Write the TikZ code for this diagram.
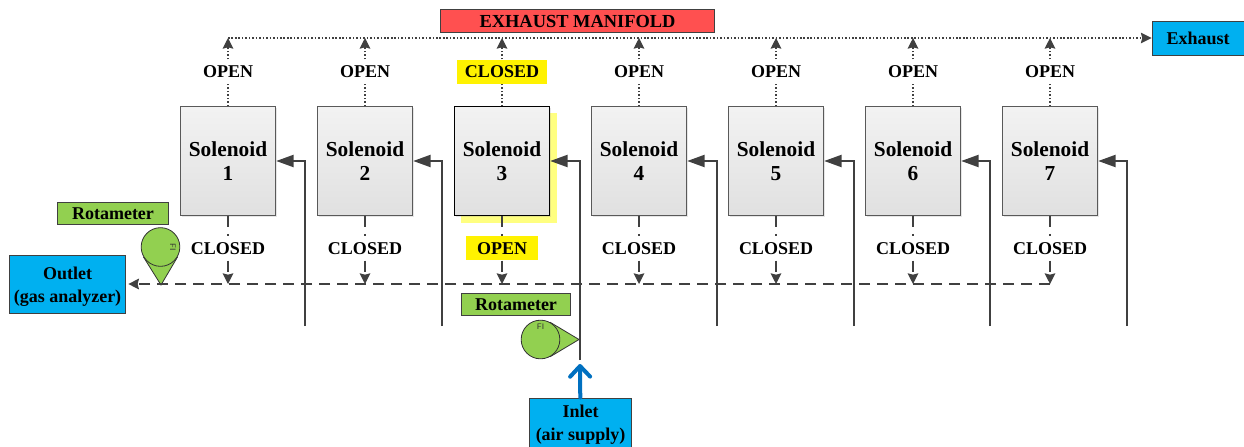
\documentclass[tikz,border=0pt]{standalone}
\usepackage{fontspec}
\setmainfont{Liberation Serif}
\usetikzlibrary{arrows.meta,calc,shadows,backgrounds}
\definecolor{linegray}{HTML}{404040}
\definecolor{boxblue}{HTML}{00B0F0}
\definecolor{boxred}{HTML}{FF5050}
\definecolor{boxgreen}{HTML}{92D050}
\definecolor{arrowblue}{HTML}{0070C0}
\definecolor{softyellow}{HTML}{FFFF80}

\begin{document}
\begin{tikzpicture}[x=0.75pt,y=-0.75pt,>={Stealth[length=8pt,width=8pt,inset=1pt]},node distance=102.75pt,font=\fontsize{13.5}{17}\selectfont\bfseries]
  \tikzstyle{solenoid}=[draw=black!65,line width=0.8pt,top color=black!5,bottom color=black!12,drop shadow={shadow xshift=1pt,shadow yshift=-1pt,opacity=0.2},minimum width=71.5pt,minimum height=81.5pt,align=center,inner sep=0pt,font=\fontsize{16}{18}\selectfont\bfseries]
  \tikzstyle{state label}=[inner xsep=2pt,inner ysep=0pt,minimum height=18pt]
  \tikzstyle{open label}=[state label,above of=#1,node distance=67pt]
  \tikzstyle{closed label}=[state label,below of=#1,node distance=65.6pt]
  \tikzstyle{tagbox}=[draw=black!75,line width=0.7pt,align=center,inner sep=0pt]
  \tikzstyle{meter}=[circle,draw=black!80,fill=boxgreen,line width=0.6pt,minimum size=29pt,inner sep=0pt]
  \tikzstyle{meter tip}=[draw=black!80,fill=boxgreen,line width=0.6pt]
  \tikzstyle{fi text}=[font=\fontsize{6}{6}\sffamily,text=black!80,inner sep=0pt]
  \tikzstyle{exhaust line}=[draw=linegray,line width=0.85pt,dash pattern=on 1.2pt off 1.4pt]
  \tikzstyle{exhaust}=[->,exhaust line]
  \tikzstyle{outlet line}=[draw=linegray,line width=1pt,dash pattern=on 8.5pt off 5pt]
  \tikzstyle{outlet}=[->,outlet line]
  \tikzstyle{air}=[draw=linegray,line width=1.5pt,-{Stealth[length=13pt,width=9pt,inset=0pt]},to path={|- (\tikztotarget)}]

  \useasboundingbox (0,0) rectangle (1244,446);

  % highlight behind the third solenoid
  \node[fill=softyellow,minimum width=72pt,minimum height=82.5pt,inner sep=0pt] (H3) at (509,168) {};

  \node[solenoid] (S1) at (228,161) {Solenoid\\1};
  \node[solenoid] (S2) [right of=S1] {Solenoid\\2};
  \node[solenoid,draw=black] (S3) [right of=S2] {Solenoid\\3};
  \node[solenoid] (S4) [right of=S3] {Solenoid\\4};
  \node[solenoid] (S5) [right of=S4] {Solenoid\\5};
  \node[solenoid] (S6) [right of=S5] {Solenoid\\6};
  \node[solenoid] (S7) [right of=S6] {Solenoid\\7};

  \node[open label=S1] (U1) {OPEN};
  \node[open label=S2] (U2) {OPEN};
  \node[open label=S3,fill=yellow,minimum width=68pt] (U3) {CLOSED};
  \node[open label=S4] (U4) {OPEN};
  \node[open label=S5] (U5) {OPEN};
  \node[open label=S6] (U6) {OPEN};
  \node[open label=S7] (U7) {OPEN};

  \node[closed label=S1] (L1) {CLOSED};
  \node[closed label=S2] (L2) {CLOSED};
  \node[closed label=S3,fill=yellow,minimum width=54pt] (L3) {OPEN};
  \node[closed label=S4] (L4) {CLOSED};
  \node[closed label=S5] (L5) {CLOSED};
  \node[closed label=S6] (L6) {CLOSED};
  \node[closed label=S7] (L7) {CLOSED};

  \node[tagbox,fill=boxred,minimum width=205.5pt,minimum height=17.5pt,font=\fontsize{13.8}{16}\selectfont\bfseries] (Manifold) at (577.5,21) {EXHAUST MANIFOLD};
  \node[tagbox,fill=boxblue,minimum width=69pt,minimum height=25.5pt] (Exhaust) at (1198,38) {Exhaust};
  \node[tagbox,fill=boxblue,minimum width=87.5pt,minimum height=43.5pt] (Outlet) at (67.5,284) {\rule{0pt}{13pt}Outlet\\(gas analyzer)};
  \node[tagbox,fill=boxblue,minimum width=76.5pt,minimum height=40.5pt] (Inlet) at (580.5,425) {Inlet\\(air supply)};
  \node[tagbox,fill=boxgreen,minimum width=83.5pt,minimum height=17pt] (Rota1) at (113,213.5) {Rotameter};
  \node[tagbox,fill=boxgreen,minimum width=82pt,minimum height=17pt] (Rota2) at (516,304.5) {Rotameter};

  \coordinate (M1) at (S1 |- Exhaust);
  \coordinate (M2) at (S2 |- Exhaust);
  \coordinate (M3) at (S3 |- Exhaust);
  \coordinate (M4) at (S4 |- Exhaust);
  \coordinate (M5) at (S5 |- Exhaust);
  \coordinate (M6) at (S6 |- Exhaust);
  \coordinate (M7) at (S7 |- Exhaust);
  \coordinate (D1) at (S1 |- Outlet);
  \coordinate (D2) at (S2 |- Outlet);
  \coordinate (D3) at (S3 |- Outlet);
  \coordinate (D4) at (S4 |- Outlet);
  \coordinate (D5) at (S5 |- Outlet);
  \coordinate (D6) at (S6 |- Outlet);
  \coordinate (D7) at (S7 |- Outlet);
  \coordinate (A1) at (305,326);
  \coordinate (A2) at (442,326);
  \coordinate (A3) at (580,360);
  \coordinate (A4) at (717,326);
  \coordinate (A5) at (854,326);
  \coordinate (A6) at (990,326);
  \coordinate (A7) at (1127,326);
  \coordinate (B3) at (580,364);

  % upper side, to the manifold
  \path (S1) edge [exhaust line] (U1) (S2) edge [exhaust line] (U2) (S3) edge [exhaust line] (U3) (S4) edge [exhaust line] (U4)
        (S5) edge [exhaust line] (U5) (S6) edge [exhaust line] (U6) (S7) edge [exhaust line] (U7);
  \path (U1) edge [exhaust] (M1) (U2) edge [exhaust] (M2) (U3) edge [exhaust] (M3) (U4) edge [exhaust] (M4)
        (U5) edge [exhaust] (M5) (U6) edge [exhaust] (M6) (U7) edge [exhaust] (M7)
        (M1) edge [exhaust] (Exhaust);

  % lower side, to the outlet
  \path (S1) edge [outlet line] (L1) (S2) edge [outlet line] (L2) (S3) edge [outlet line] (L3) (S4) edge [outlet line] (L4)
        (S5) edge [outlet line] (L5) (S6) edge [outlet line] (L6) (S7) edge [outlet line] (L7);
  \path (L1) edge [outlet] (D1) (L2) edge [outlet] (D2) (L3) edge [outlet] (D3) (L4) edge [outlet] (D4)
        (L5) edge [outlet] (D5) (L6) edge [outlet] (D6) (L7) edge [outlet] (D7)
        (D7) edge [outlet,shorten >=1.5pt] (Outlet);

  % air supply
  \path (A1) edge [air] (S1) (A2) edge [air] (S2) (A3) edge [air] (S3) (A4) edge [air] (S4)
        (A5) edge [air] (S5) (A6) edge [air] (S6) (A7) edge [air] (S7);
  \path (Inlet) edge [draw=arrowblue,line width=3pt,line cap=round,-{Straight Barb[length=8pt,width=15pt,round]}] (B3);

  % rotameters
  \node[meter] (F1) at (160.5,247) {};
  \node[meter] (F2) at (540.5,339.5) {};
  \coordinate (T1) at (161,285);
  \coordinate (T2) at (579,339.5);
  \begin{scope}[on background layer]
    \draw[meter tip] (T1) -- (tangent cs:node=F1,point={(T1)},solution=1) -- (tangent cs:node=F1,point={(T1)},solution=2) -- cycle;
    \draw[meter tip] (T2) -- (tangent cs:node=F2,point={(T2)},solution=1) -- (tangent cs:node=F2,point={(T2)},solution=2) -- cycle;
  \end{scope}
  \node[fi text,rotate=-90] (FI1) at (173,247) {FI};
  \node[fi text] (FI2) at (540.5,327) {FI};
\end{tikzpicture}
\end{document}
